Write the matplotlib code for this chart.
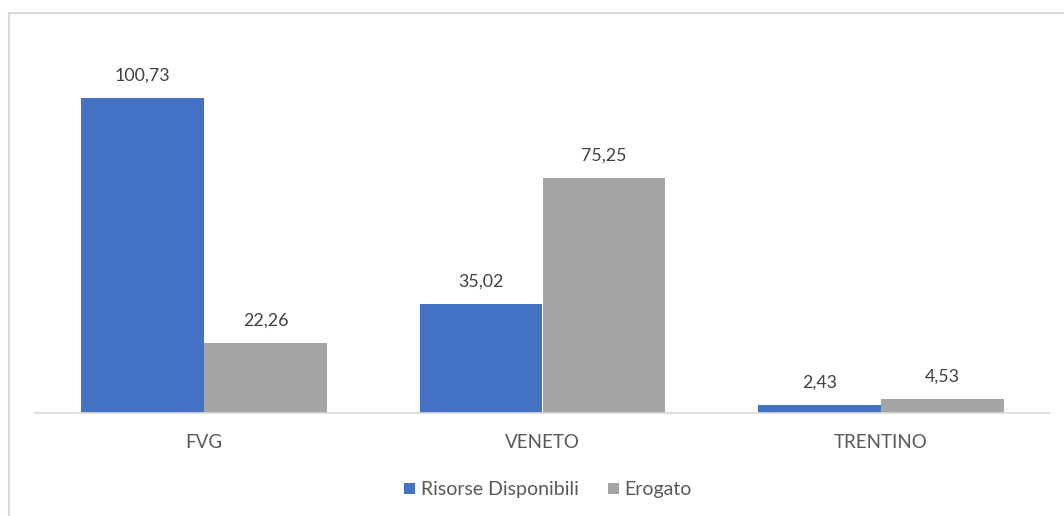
import matplotlib.pyplot as plt
import numpy as np
from matplotlib.lines import Line2D

plt.rcParams['font.family'] = ['Lato', 'DejaVu Sans']

regioni = ['FVG', 'VENETO', 'TRENTINO']
risorse = [100.73, 35.02, 2.43]
erogato = [22.26, 75.25, 4.53]

blu = '#4472C4'
grigio = '#A5A5A5'
testo = '#595959'

fig = plt.figure(figsize=(10.64, 5.16), dpi=100)
ax = fig.add_axes([35 / 1064, 103 / 516, 1015 / 1064, 375 / 516])

x = np.arange(len(regioni))
w = 0.363
b1 = ax.bar(x - w / 2, risorse, w, color=blu, label='Risorse Disponibili')
b2 = ax.bar(x + w / 2, erogato, w, color=grigio, label='Erogato')

for bars, vals in ((b1, risorse), (b2, erogato)):
    for r, v in zip(bars, vals):
        ax.text(r.get_x() + r.get_width() / 2, v + 4.6, f'{v:.2f}'.replace('.', ','),
                ha='center', va='bottom', fontsize=12.8, color='#404040')

ax.set_xlim(-0.5, 2.5)
ax.set_ylim(0, 120)
ax.set_xticks(x)
ax.set_xticklabels(regioni, fontsize=13.5, color=testo)
ax.tick_params(axis='x', length=0, pad=15)
ax.set_yticks([])
for s in ['top', 'right', 'left']:
    ax.spines[s].set_visible(False)
ax.spines['bottom'].set_color('#D9D9D9')
ax.spines['bottom'].set_linewidth(1.2)

ax.legend(loc='center', bbox_to_anchor=(513 / 1015, -77 / 375), ncol=2, frameon=False,
          fontsize=14, labelcolor=testo, handlelength=0.55, handleheight=0.55,
          handletextpad=0.3, columnspacing=1.5)

# chart frame
fig.add_artist(Line2D([8.5 / 1064, 1], [1 - 12.5 / 516, 1 - 12.5 / 516], color='#D9D9D9', lw=1.5))
fig.add_artist(Line2D([8.5 / 1064, 8.5 / 1064], [0, 1 - 12.5 / 516], color='#D9D9D9', lw=1.5))

fig.savefig('out.png', dpi=100, facecolor='white')
